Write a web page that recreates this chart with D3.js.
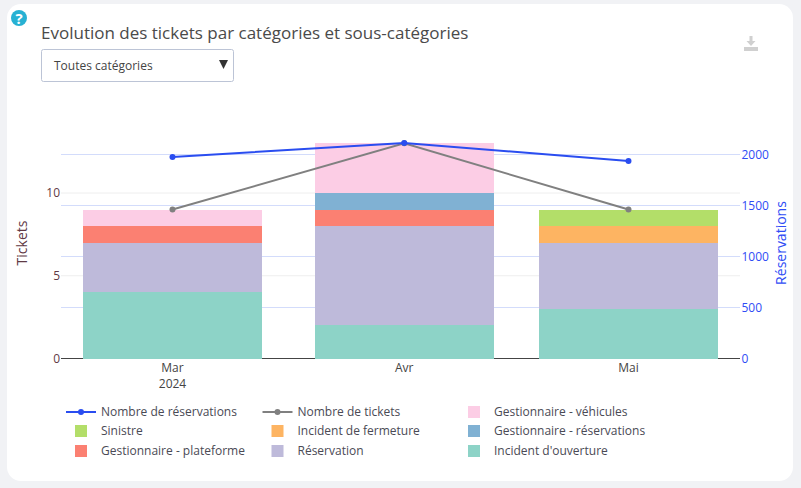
<!DOCTYPE html>
<html><head><meta charset="utf-8">
<script src="https://d3js.org/d3.v7.min.js"></script>
<style>
html,body{margin:0;padding:0;background:#f1f2f5;width:801px;height:488px;overflow:hidden}
svg{display:block}
text{font-family:"Open Sans",sans-serif}
</style></head><body><svg id="c" width="801" height="488"></svg>
<script>
const months=["2024-03-01","2024-04-01","2024-05-01"];
const monthLabels=["Mar","Avr","Mai"];
const stackNames=["Incident d'ouverture","Réservation","Gestionnaire - plateforme","Gestionnaire - réservations","Incident de fermeture","Sinistre","Gestionnaire - véhicules"];
const stackColors=["#8dd3c7","#bebada","#fb8072","#80b1d3","#fdb462","#b3de69","#fccde5"];
const ouverture=[4,2,3];
const reservation=[3,6,4];
const plateforme=[1,1,0];
const gestRes=[0,1,0];
const fermeture=[0,0,1];
const sinistre=[0,0,1];
const vehicules=[1,3,0];
const stackValues=[ouverture,reservation,plateforme,gestRes,fermeture,sinistre,vehicules];
const reservations=[1975,2113,1936];
const tickets=[9,13,9];
const leftTicks=[0,5,10];
const rightTicks=[0,500,1000,1500,2000];

const svg=d3.select("#c");
svg.append("rect").attr("x",7).attr("y",4).attr("width",786).attr("height",477).attr("rx",14).attr("fill","#fff");

const dates=months.map(d=>new Date(d+"T00:00:00Z"));
const x=d3.scaleUtc().domain([new Date("2024-02-15T02:00:00Z"),new Date("2024-05-15T22:00:00Z")]).range([61,740]);
const y=d3.scaleLinear().domain([0,10]).range([358.5,193]);
const y2=d3.scaleLinear().domain([0,2000]).range([358.5,154.5]);
const barW=179;
const tickCol="#5f3a45", blue="#2f4cf5";

// grids
const gl=svg.append("g");
leftTicks.slice(1).forEach(t=>gl.append("line").attr("x1",61).attr("x2",740).attr("y1",y(t)).attr("y2",y(t)).attr("stroke","#eeeeee"));
rightTicks.slice(1).forEach(t=>gl.append("line").attr("x1",61).attr("x2",740).attr("y1",y2(t)).attr("y2",y2(t)).attr("stroke","#d3dcfb"));

// stacked bars
dates.forEach((d,i)=>{
  let acc=0;
  stackValues.forEach((vals,k)=>{
    const v=vals[i]; if(!v) return;
    svg.append("rect").attr("x",x(d)-barW/2).attr("width",barW)
      .attr("y",y(acc+v)).attr("height",y(acc)-y(acc+v)).attr("fill",stackColors[k]).attr("shape-rendering","crispEdges");
    acc+=v;
  });
});
svg.append("line").attr("x1",61).attr("x2",83).attr("y1",358.5).attr("y2",358.5).attr("stroke","#444");
svg.append("line").attr("x1",262).attr("x2",315).attr("y1",358.5).attr("y2",358.5).attr("stroke","#444");
svg.append("line").attr("x1",494).attr("x2",539).attr("y1",358.5).attr("y2",358.5).attr("stroke","#444");
svg.append("line").attr("x1",718).attr("x2",740).attr("y1",358.5).attr("y2",358.5).attr("stroke","#444");

// lines
const lt=d3.line().x((d,i)=>x(dates[i])).y(d=>y(d));
const lr=d3.line().x((d,i)=>x(dates[i])).y(d=>y2(d));
svg.append("path").attr("d",lt(tickets)).attr("fill","none").attr("stroke","#808080").attr("stroke-width",2);
svg.selectAll(".pt").data(tickets).join("circle").attr("cx",(d,i)=>x(dates[i])).attr("cy",d=>y(d)).attr("r",3).attr("fill","#808080");
svg.append("path").attr("d",lr(reservations)).attr("fill","none").attr("stroke","#2a4df0").attr("stroke-width",2);
svg.selectAll(".pr").data(reservations).join("circle").attr("cx",(d,i)=>x(dates[i])).attr("cy",d=>y2(d)).attr("r",3).attr("fill","#2a4df0");

// axes
const txt=(s,px,py,o={})=>svg.append("text").text(s).attr("x",px).attr("y",py)
  .attr("font-size",o.size||12).attr("fill",o.fill||"#555").attr("text-anchor",o.anchor||"start").attr("transform",o.rot?`rotate(${o.rot} ${px} ${py})`:null);
leftTicks.forEach(t=>txt(t,60,y(t)+4,{anchor:"end",fill:tickCol}));
rightTicks.forEach(t=>txt(t,741.5,y2(t)+4.5,{fill:blue}));
monthLabels.forEach((m,i)=>txt(m,x(dates[i]),372,{anchor:"middle",fill:"#444"}));
txt("2024",x(dates[0]),388,{anchor:"middle",fill:"#444"});
txt("Tickets",27,243,{anchor:"middle",size:14,rot:-90,fill:tickCol});
txt("Réservations",786,243,{anchor:"middle",size:14,rot:-90,fill:blue});

// header
txt("Evolution des tickets par catégories et sous-catégories",41,38.5,{size:17,fill:"#4a4a4a"});
svg.append("rect").attr("x",41.5).attr("y",49.5).attr("width",192).attr("height",32).attr("rx",2).attr("fill","#fff").attr("stroke","#bcc4d6");
txt("Toutes catégories",54,70,{size:12,fill:"#444"});
svg.append("path").attr("d","M219,60h9l-4.5,9z").attr("fill","#333");
svg.append("circle").attr("cx",19).attr("cy",18).attr("r",8).attr("fill","#27b1d3");
txt("?",19,23.5,{size:15,fill:"#fff",anchor:"middle"}).attr("font-weight",700);
svg.append("path").attr("d","M749.5,36h3v5h3l-4.5,5l-4.5,-5h3zM744,47h14v4h-14z").attr("fill","#d0d0d0");

// legend
const cols=[66,262.5,459], rows=[412,431,451];
const legend=[
 {n:"Nombre de réservations",c:"#2a4df0",line:1,col:0,row:0},
 {n:"Nombre de tickets",c:"#808080",line:1,col:1,row:0},
 {n:stackNames[6],c:stackColors[6],col:2,row:0},
 {n:stackNames[5],c:stackColors[5],col:0,row:1},
 {n:stackNames[4],c:stackColors[4],col:1,row:1},
 {n:stackNames[3],c:stackColors[3],col:2,row:1},
 {n:stackNames[2],c:stackColors[2],col:0,row:2},
 {n:stackNames[1],c:stackColors[1],col:1,row:2},
 {n:stackNames[0],c:stackColors[0],col:2,row:2}];
legend.forEach(l=>{
  const lx=cols[l.col], ly=rows[l.row];
  if(l.line){
    svg.append("line").attr("x1",lx).attr("x2",lx+30).attr("y1",ly).attr("y2",ly).attr("stroke",l.c).attr("stroke-width",2);
    svg.append("circle").attr("cx",lx+15).attr("cy",ly).attr("r",3).attr("fill",l.c);
  } else {
    svg.append("rect").attr("x",lx+9).attr("y",ly-6).attr("width",12).attr("height",12).attr("fill",l.c);
  }
  txt(l.n,lx+35,ly+4,{fill:"#4a4a55"});
});
</script></body></html>
